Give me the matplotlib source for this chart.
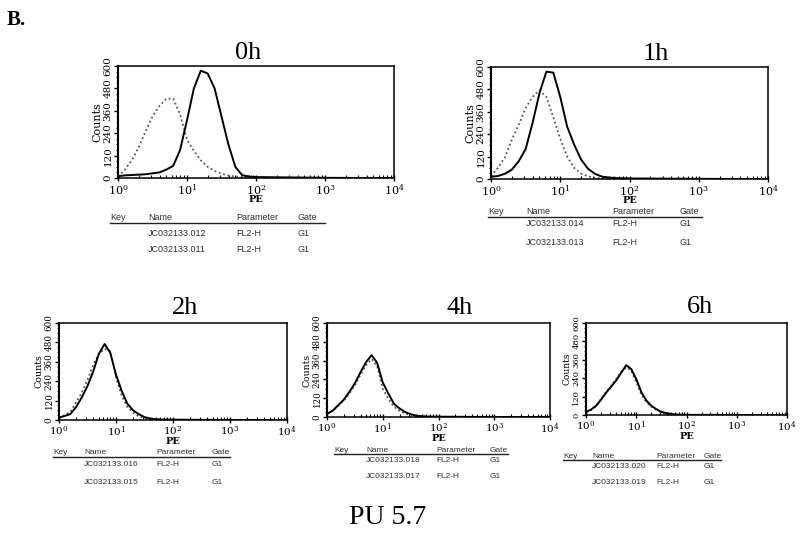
"""Flow cytometry PE histograms, PU 5.7 time course (panel B)."""
import matplotlib
matplotlib.use("Agg")
import matplotlib.pyplot as plt
from matplotlib.ticker import MultipleLocator, LogLocator

plt.rcParams["font.family"] = "DejaVu Serif"
plt.rcParams["mathtext.fontset"] = "dejavuserif"

# log10(PE) channel positions
pe_log = [0.0, 0.1, 0.2, 0.3, 0.4, 0.5, 0.6, 0.7, 0.8, 0.9, 1.0,
          1.1, 1.2, 1.3, 1.4, 1.5, 1.6, 1.7, 1.8, 1.9, 2.0, 2.5, 3.0, 3.5, 4.0]

titles = ["0h", "1h", "2h", "4h", "6h"]

# solid = treated sample, dotted = control
solid_0h = [10, 14, 16, 18, 20, 25, 30, 45, 65, 150, 310, 480, 575, 560, 480,
            330, 180, 60, 15, 8, 5, 3, 1, 0, 0]
dotted_0h = [8, 45, 95, 165, 250, 330, 385, 425, 425, 340, 205, 145, 95, 60, 38,
             24, 13, 8, 5, 3, 2, 0, 0, 0, 0]
solid_1h = [12, 16, 28, 50, 95, 160, 300, 460, 575, 570, 440, 280, 185, 105, 55,
            28, 13, 8, 5, 4, 3, 2, 1, 0, 0]
dotted_1h = [15, 60, 115, 210, 290, 380, 440, 475, 440, 330, 215, 120, 60, 30, 14,
             6, 3, 1, 0, 0, 0, 0, 0, 0, 0]
solid_2h = [15, 25, 37, 80, 140, 210, 300, 410, 470, 415, 280, 180, 100, 60, 36,
            18, 9, 5, 3, 2, 2, 1, 0, 0, 0]
dotted_2h = [10, 30, 50, 110, 170, 250, 340, 410, 440, 425, 265, 150, 80, 45, 22,
             12, 6, 3, 2, 1, 0, 0, 0, 0, 0]
solid_4h = [20, 40, 75, 110, 160, 215, 285, 350, 395, 345, 220, 150, 85, 55, 32,
            18, 9, 5, 3, 2, 2, 1, 0, 0, 0]
dotted_4h = [18, 38, 70, 105, 150, 205, 270, 330, 370, 325, 180, 115, 65, 40, 22,
             12, 6, 3, 2, 1, 0, 0, 0, 0, 0]
solid_6h = [20, 35, 60, 100, 145, 185, 225, 275, 325, 300, 235, 150, 95, 60, 38,
            20, 12, 6, 3, 2, 1, 1, 0, 0, 0]
dotted_6h = [18, 32, 58, 105, 150, 190, 235, 280, 310, 290, 215, 135, 85, 55, 33,
             18, 10, 5, 3, 1, 0, 0, 0, 0, 0]

sample_names = [("JC032133.012", "JC032133.011"),
                ("JC032133.014", "JC032133.013"),
                ("JC032133.016", "JC032133.015"),
                ("JC032133.018", "JC032133.017"),
                ("JC032133.020", "JC032133.019")]
count_ticks = [0, 120, 240, 360, 480, 600]

W, H = 800, 539


def px(x, y):
    return x / W, 1 - y / H


def rect(x0, y0, x1, y1):
    return [x0 / W, 1 - y1 / H, (x1 - x0) / W, (y1 - y0) / H]


# layout in reference pixels
axes_px = [(118, 66, 394, 178), (491, 67, 768, 179), (59, 323, 287, 420),
           (327, 323, 550, 417), (586, 323, 787, 415)]
title_px = [(248, 53), (656, 54), (185, 308), (460, 308), (700, 307)]
# tick label sizes (x, y) per panel
tick_fs = [(8, 7.5), (8, 7.5), (7.5, 6.3), (7.5, 6.2), (7.5, 6.0)]
# key_x, name_x, param_x, gate_x, line_end, header_y, line_y, row1_y, row2_y, fontsize
table_px = [(110, 148, 236, 297, 325, 218, 223, 233, 249, 6.5),
            (488, 526, 612, 680, 702, 212, 217, 224, 242, 6.5),
            (53, 84, 156, 212, 230, 453, 457, 464, 482, 6),
            (334, 366, 436, 490, 508, 450, 454, 460, 477, 6),
            (563, 592, 656, 704, 721, 457, 460, 467, 483, 6)]

solids = [solid_0h, solid_1h, solid_2h, solid_4h, solid_6h]
dotteds = [dotted_0h, dotted_1h, dotted_2h, dotted_4h, dotted_6h]
pe = [10 ** v for v in pe_log]

fig = plt.figure(figsize=(8, 5.39), dpi=100)

for i in range(5):
    ax = fig.add_axes(rect(*axes_px[i]))
    ax.plot(pe, dotteds[i], color="#555555", lw=1.3, ls=(0, (1, 1.5)))
    ax.plot(pe, solids[i], color="black", lw=1.4)
    ax.set_xscale("log")
    ax.set_xlim(1, 1e4)
    ax.set_ylim(0, 600)
    ax.xaxis.set_major_locator(LogLocator(base=10, numticks=10))
    ax.xaxis.set_minor_locator(LogLocator(base=10, subs=range(2, 10), numticks=10))
    ax.set_yticks(count_ticks)
    ax.set_yticklabels([str(t) for t in count_ticks], rotation=90, va="center")
    ax.yaxis.set_minor_locator(MultipleLocator(30))
    xfs, yfs = tick_fs[i]
    ax.tick_params(axis="x", which="major", direction="inout", length=5, width=1,
                   labelsize=xfs, pad=1)
    ax.tick_params(axis="x", which="minor", direction="in", length=2.5, width=0.8)
    ax.tick_params(axis="y", which="major", direction="out", length=3, width=1,
                   labelsize=yfs, pad=1)
    ax.tick_params(axis="y", which="minor", direction="out", length=1.5, width=0.6)
    for s in ax.spines.values():
        s.set_linewidth(1.1)
    ax.spines["left"].set_linewidth(1.5)
    ax.set_xlabel("PE", fontsize=7, labelpad=-1.5, family="DejaVu Serif",
                  fontweight="bold")
    ax.set_ylabel("Counts", fontsize=yfs + 0.5, labelpad=1)

    tx, ty = title_px[i]
    fig.text(*px(tx, ty), titles[i], ha="center", va="center",
             family="Liberation Serif", fontsize=19)

    kx, nx, parx, gx, lend, hy, ly, r1, r2, fs = table_px[i]
    tkw = dict(family="Liberation Sans", fontsize=fs, color="#333333", va="center")
    fig.text(*px(kx, hy), "Key", **tkw)
    fig.text(*px(nx, hy), "Name", **tkw)
    fig.text(*px(parx, hy), "Parameter", **tkw)
    fig.text(*px(gx, hy), "Gate", **tkw)
    fig.add_artist(plt.Line2D([kx / W, lend / W], [1 - ly / H, 1 - ly / H],
                              color="#222222", lw=1.0))
    for ry, nm in zip((r1, r2), sample_names[i]):
        fig.text(*px(nx, ry), nm, **tkw)
        fig.text(*px(parx, ry), "FL2-H", **tkw)
        fig.text(*px(gx, ry), "G1", **tkw)

fig.text(*px(7, 20), "B.", ha="left", va="center", family="Liberation Serif",
         fontsize=15, fontweight="bold")
fig.text(*px(388, 517), "PU 5.7", ha="center", va="center",
         family="Liberation Serif", fontsize=20)

fig.savefig("out.png", dpi=100)
